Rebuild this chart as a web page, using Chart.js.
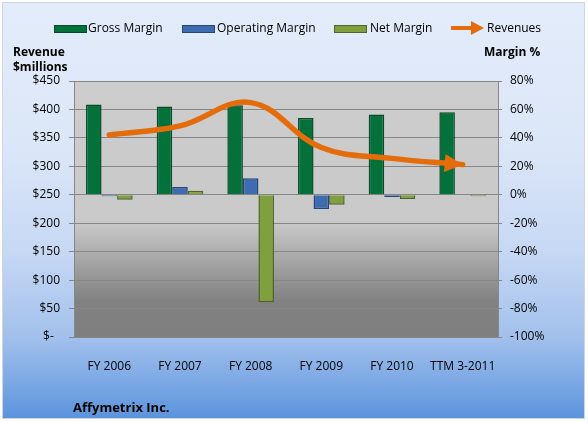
<!DOCTYPE html>
<html lang="en">
  <head>
    <meta charset="UTF-8" />
    <title>Affymetrix Inc.</title>
    <script src="https://cdn.jsdelivr.net/npm/chart.js"></script>
    <style>
      body { margin: 0; background: #fff; }
      #wrap { position: relative; width: 588px; height: 422px; overflow: hidden; font-family: "Open Sans", sans-serif; }
      #bg {
        position: absolute; left: 2px; top: 2px; width: 581px; height: 415px;
        border: 1px solid #cfd6df;
        background: linear-gradient(to bottom, #e3ecfa 0%, #dbe6f8 35%, #c6d8f4 60%, #a3c1ec 80%, #7aa7e4 92%, #5b94dc 100%);
      }
      #chart { position: absolute; left: 0; top: 0; }
      .lbl { position: absolute; font-size: 12px; color: #000; white-space: nowrap; }
      .bold { font-weight: bold; }
      .sw { position: absolute; width: 31px; height: 6px; top: 25px; }
    </style>
  </head>
  <body>
    <div id="wrap">
      <div id="bg"></div>
      <canvas id="chart" width="588" height="422"></canvas>

      <!-- legend -->
      <div class="sw" style="left:54px;background:#04703a;border:1px solid #0a4a28;"></div>
      <div class="lbl" style="left:88px;top:19px;">Gross Margin</div>
      <div class="sw" style="left:182px;background:#3d6db0;border:1px solid #24467a;"></div>
      <div class="lbl" style="left:217px;top:19px;">Operating Margin</div>
      <div class="sw" style="left:334px;background:#80a040;border:1px solid #4f6627;"></div>
      <div class="lbl" style="left:370px;top:19px;">Net Margin</div>
      <svg style="position:absolute;left:451px;top:20px;" width="34" height="16">
        <line x1="1" y1="8" x2="22" y2="8" stroke="#e46c0a" stroke-width="4" stroke-linecap="round" />
        <polygon points="20,1 33,8 20,15" fill="#e46c0a" />
      </svg>
      <div class="lbl" style="left:487px;top:19px;">Revenues</div>

      <div class="lbl bold" style="left:13px;top:44px;line-height:15px;">Revenue<br />$millions</div>
      <div class="lbl bold" style="left:484px;top:44px;line-height:15px;">Margin %</div>
      <div class="lbl bold" style="left:73px;top:398px;font-size:13px;">Affymetrix Inc.</div>
    </div>

    <script>
      // data
      const years = ["FY 2006", "FY 2007", "FY 2008", "FY 2009", "FY 2010", "TTM 3-2011"];
      const grossMargin = [63.5, 62, 63, 54, 56.5, 58];
      const operatingMargin = [-1, 5.4, 11.7, -10, -1.5, -0.3];
      const netMargin = [-3.5, 2.8, -75.5, -7, -3, -1];
      const revenues = [355, 371, 412, 333, 314, 303];

      const revenueTicks = { min: 0, max: 450, step: 50 };
      const marginTicks = { min: -100, max: 80, step: 20 };

      const tickFont = { family: "Open Sans", size: 12 };
      const gridColor = "#878787";

      // grey plot area, darker towards the bottom
      const plotBg = {
        id: "plotBg",
        beforeDraw(chart) {
          const { ctx, chartArea: a } = chart;
          const g = ctx.createLinearGradient(0, a.top, 0, a.bottom);
          g.addColorStop(0, "#cdcdcd");
          g.addColorStop(0.55, "#c9c9c9");
          g.addColorStop(0.86, "#818181");
          g.addColorStop(1, "#7f7f7f");
          ctx.save();
          ctx.fillStyle = g;
          ctx.fillRect(a.left, a.top, a.right - a.left, a.bottom - a.top);
          ctx.restore();
        },
      };

      // arrow head on the end of the revenue line
      const arrowHead = {
        id: "arrowHead",
        afterDatasetsDraw(chart) {
          const meta = chart.getDatasetMeta(3);
          const pts = meta.data;
          const last = pts[pts.length - 1];
          const cx = last.cp1x !== undefined ? last.cp1x : pts[pts.length - 2].x;
          const cy = last.cp1y !== undefined ? last.cp1y : pts[pts.length - 2].y;
          const ang = Math.atan2(last.y - cy, last.x - cx);
          const len = 18, half = 9;
          const ctx = chart.ctx;
          ctx.save();
          ctx.translate(last.x, last.y);
          ctx.rotate(ang);
          ctx.fillStyle = "#e46c0a";
          ctx.beginPath();
          ctx.moveTo(0, 0);
          ctx.lineTo(-len, -half);
          ctx.lineTo(-len, half);
          ctx.closePath();
          ctx.fill();
          ctx.restore();
        },
      };

      new Chart(document.getElementById("chart"), {
        data: {
          labels: years,
          datasets: [
            {
              type: "bar",
              label: "Gross Margin",
              data: grossMargin,
              yAxisID: "y1",
              backgroundColor: "#04703a",
              borderColor: "#0a4a28",
              borderWidth: 1.5,
              order: 1,
            },
            {
              type: "bar",
              label: "Operating Margin",
              data: operatingMargin,
              yAxisID: "y1",
              backgroundColor: "#3d6db0",
              borderColor: "#24467a",
              borderWidth: 1.5,
              order: 1,
            },
            {
              type: "bar",
              label: "Net Margin",
              data: netMargin,
              yAxisID: "y1",
              backgroundColor: "#80a040",
              borderColor: "#4f6627",
              borderWidth: 1.5,
              order: 1,
            },
            {
              type: "line",
              label: "Revenues",
              data: revenues,
              yAxisID: "y",
              borderColor: "#e46c0a",
              borderWidth: 5.5,
              borderCapStyle: "round",
              tension: 0.4,
              pointRadius: 0,
              fill: false,
              order: 0,
            },
          ],
        },
        options: {
          responsive: false,
          animation: false,
          datasets: { bar: { categoryPercentage: 0.66, barPercentage: 1 } },
          layout: { padding: { top: 81, left: 0, right: 0, bottom: 0 } },
          plugins: {
            legend: { display: false },
            title: { display: false },
            tooltip: { enabled: false },
          },
          scales: {
            x: {
              grid: { display: false },
              border: { display: false },
              ticks: { font: tickFont, color: "#000", padding: 14, maxRotation: 0 },
              afterFit(s) { s.height = 85; },
            },
            y: {
              position: "left",
              min: revenueTicks.min,
              max: revenueTicks.max,
              ticks: {
                stepSize: revenueTicks.step,
                font: tickFont,
                color: "#000",
                padding: 9,
                callback: (v) => (v === 0 ? "$-  " : "$" + v),
              },
              grid: { color: gridColor, lineWidth: 1, tickLength: 5 },
              border: { color: gridColor },
              afterFit(s) { s.width = 74; },
            },
            y1: {
              position: "right",
              min: marginTicks.min,
              max: marginTicks.max,
              ticks: {
                stepSize: marginTicks.step,
                font: tickFont,
                color: "#000",
                padding: 8,
                callback: (v) => v + "%",
              },
              grid: { drawOnChartArea: false, color: gridColor, tickLength: 4 },
              border: { color: gridColor },
              afterFit(s) { s.width = 90; },
            },
          },
        },
        plugins: [plotBg, arrowHead],
      });
    </script>
  </body>
</html>
